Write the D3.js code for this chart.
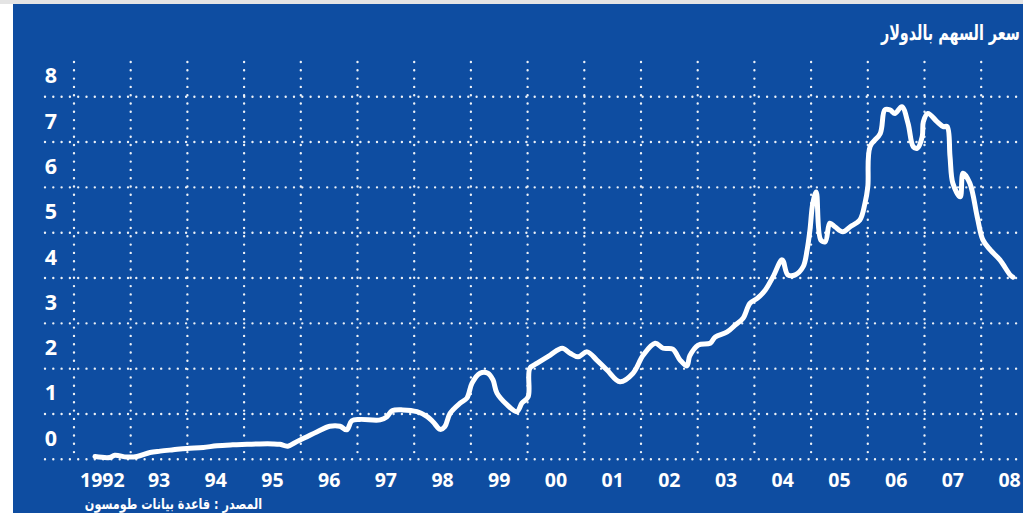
<!DOCTYPE html>
<html>
<head>
<meta charset="utf-8">
<script src="https://cdn.jsdelivr.net/npm/d3@7"></script>
<style>
  html, body { margin: 0; padding: 0; background: #ffffff; }
  svg { display: block; }
</style>
</head>
<body>
<svg id="chart" width="1023" height="513"></svg>
<script>
// ---- data ----
const title = "سعر السهم بالدولار";
const source = "المصدر : قاعدة بيانات طومسون";
const yTicks = [0, 1, 2, 3, 4, 5, 6, 7, 8];
const yearStarts = [1992, 1993, 1994, 1995, 1996, 1997, 1998, 1999, 2000, 2001, 2002, 2003, 2004, 2005, 2006, 2007, 2008];
const yearLabels = ["1992", "93", "94", "95", "96", "97", "98", "99", "00", "01", "02", "03", "04", "05", "06", "07", "08"];
const dates = [
  1992.37, 1992.63, 1992.72, 1992.93, 1993.11, 1993.34, 1993.52, 1993.75, 1993.99, 1994.28,
  1994.52, 1994.80, 1995.05, 1995.28, 1995.51, 1995.63, 1995.77, 1995.93, 1996.11, 1996.29,
  1996.51, 1996.69, 1996.81, 1996.90, 1997.04, 1997.40, 1997.52, 1997.61, 1997.80, 1998.05,
  1998.23, 1998.33, 1998.46, 1998.54, 1998.63, 1998.81, 1998.93, 1999.02, 1999.16, 1999.30,
  1999.39, 1999.46, 1999.64, 1999.81, 1999.90, 2000.01, 2000.04, 2000.17, 2000.40, 2000.61,
  2000.75, 2000.89, 2001.05, 2001.22, 2001.40, 2001.63, 2001.86, 2002.04, 2002.25, 2002.39,
  2002.56, 2002.69, 2002.81, 2002.86, 2003.01, 2003.22, 2003.31, 2003.52, 2003.66, 2003.80,
  2003.92, 2004.05, 2004.19, 2004.33, 2004.49, 2004.59, 2004.72, 2004.86, 2004.93, 2004.98,
  2005.03, 2005.09, 2005.17, 2005.25, 2005.33, 2005.42, 2005.56, 2005.69, 2005.86, 2005.95,
  2006.00, 2006.04, 2006.22, 2006.30, 2006.39, 2006.48, 2006.60, 2006.71, 2006.80, 2006.87,
  2006.96, 2006.98, 2007.06, 2007.22, 2007.33, 2007.40, 2007.45, 2007.50, 2007.63, 2007.68,
  2007.80, 2007.93, 2008.03, 2008.16, 2008.33, 2008.51, 2008.56
];
const prices = [
  0.06, 0.04, 0.09, 0.05, 0.06, 0.15, 0.18, 0.21, 0.24, 0.26,
  0.30, 0.32, 0.33, 0.34, 0.34, 0.33, 0.29, 0.39, 0.50, 0.61,
  0.73, 0.73, 0.65, 0.85, 0.88, 0.87, 0.94, 1.07, 1.09, 1.05,
  0.94, 0.83, 0.66, 0.72, 1.01, 1.24, 1.35, 1.68, 1.90, 1.90,
  1.75, 1.46, 1.20, 1.05, 1.24, 1.38, 2.01, 2.12, 2.30, 2.45,
  2.34, 2.26, 2.37, 2.19, 1.97, 1.71, 1.90, 2.30, 2.56, 2.45,
  2.43, 2.19, 2.06, 2.28, 2.52, 2.56, 2.70, 2.81, 2.96, 3.11,
  3.44, 3.55, 3.73, 4.03, 4.40, 4.07, 4.07, 4.25, 4.62, 5.06,
  5.65, 5.90, 4.84, 4.80, 5.21, 5.13, 5.02, 5.13, 5.28, 5.65,
  6.01, 6.90, 7.19, 7.71, 7.71, 7.63, 7.78, 7.41, 6.90, 6.86,
  7.12, 7.45, 7.63, 7.45, 7.34, 7.34, 6.68, 6.09, 5.79, 6.31,
  6.09, 5.35, 4.84, 4.62, 4.40, 4.07, 4.02
];

// ---- chart ----
const W = 1023, H = 513;
const svg = d3.select("#chart");
const blue = "#0e4da1";

svg.append("rect").attr("x", 0).attr("y", 0).attr("width", W).attr("height", H).attr("fill", "#ffffff");
svg.append("rect").attr("x", 0).attr("y", 0).attr("width", W).attr("height", 4).attr("fill", "#e4e4e4");
svg.append("rect").attr("x", 13).attr("y", 4).attr("width", W - 13).attr("height", H - 4).attr("fill", blue);

const x = d3.scaleLinear().domain([1992, 2009]).range([74, 74 + 56.7 * 17]);
const y = d3.scaleLinear().domain([0, 8]).range([459.3, 96.7]);

const grid = svg.append("g")
  .attr("stroke", "#ffffff")
  .attr("stroke-width", 2.4)
  .attr("stroke-linecap", "round")
  .attr("stroke-dasharray", "0 8.3")
  .attr("opacity", 0.92);

grid.selectAll("line.h").data(yTicks).join("line")
  .attr("class", "h")
  .attr("x1", 45).attr("x2", W + 5)
  .attr("y1", d => y(d)).attr("y2", d => y(d));

grid.selectAll("line.v").data(yearStarts).join("line")
  .attr("class", "v")
  .attr("x1", d => x(d)).attr("x2", d => x(d))
  .attr("y1", 62).attr("y2", y(0));

// y labels
svg.append("g").selectAll("text").data(yTicks).join("text")
  .attr("x", 51)
  .attr("y", d => y(d) - 13.5)
  .attr("text-anchor", "middle")
  .attr("fill", "#ffffff")
  .attr("font-family", "'Open Sans', sans-serif")
  .attr("font-weight", 700)
  .attr("font-size", 21.5)
  .text(d => d);

// x labels
svg.append("g").selectAll("text").data(yearStarts).join("text")
  .attr("x", d => x(d + 0.5))
  .attr("y", 487)
  .attr("text-anchor", "middle")
  .attr("fill", "#ffffff")
  .attr("font-family", "'Open Sans', sans-serif")
  .attr("font-weight", 700)
  .attr("font-size", 19.5)
  .text((d, i) => yearLabels[i]);

// line
const pts = dates.map((d, i) => [d, prices[i]]);
const line = d3.line()
  .x(d => x(d[0]))
  .y(d => y(d[1]))
  .curve(d3.curveCatmullRom.alpha(0.5));

svg.append("path")
  .datum(pts)
  .attr("d", line)
  .attr("fill", "none")
  .attr("stroke", "#ffffff")
  .attr("stroke-width", 5)
  .attr("stroke-linejoin", "round")
  .attr("stroke-linecap", "round");

// title (condensed, right-aligned at the edge)
svg.append("text")
  .attr("transform", "translate(1020,40) scale(0.76,1)")
  .attr("text-anchor", "end")
  .attr("fill", "#ffffff")
  .attr("font-family", "'DejaVu Sans Condensed', 'DejaVu Sans', sans-serif")
  .attr("font-weight", 700)
  .attr("font-size", 21)
  .text(title);

// source
svg.append("text")
  .attr("transform", "translate(262,509) scale(0.86,1)")
  .attr("text-anchor", "end")
  .attr("fill", "#ffffff")
  .attr("font-family", "'DejaVu Sans Condensed', 'DejaVu Sans', sans-serif")
  .attr("font-weight", 700)
  .attr("font-size", 14.5)
  .text(source);
</script>
</body>
</html>
